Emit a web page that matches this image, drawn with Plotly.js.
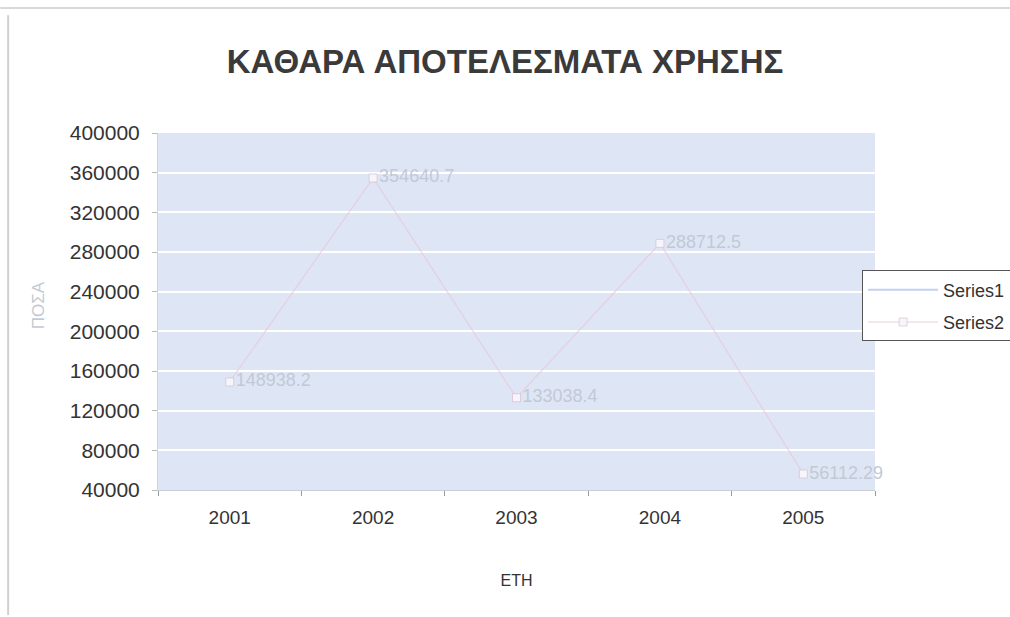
<!DOCTYPE html>
<html>
<head>
<meta charset="utf-8">
<script src="https://cdn.plot.ly/plotly-3.0.1.min.js"></script>
<style>
html,body{margin:0;padding:0;background:#fff;}
#chart{width:1010px;height:617px;}
</style>
</head>
<body>
<div id="chart"></div>
<script>
// Data
var years = ['2001', '2002', '2003', '2004', '2005'];
var series1 = [2001, 2002, 2003, 2004, 2005];
var series2 = [148938.2, 354640.7, 133038.4, 288712.5, 56112.29];
var series2Labels = ['148938.2', '354640.7', '133038.4', '288712.5', '56112.29'];
var yTickVals = [40000, 80000, 120000, 160000, 200000, 240000, 280000, 320000, 360000, 400000];

var traces = [
  {
    name: 'Series1', type: 'scatter', mode: 'lines',
    x: years, y: series1, legendgroup: 'a',
    line: {color: '#c3d0ee', width: 2},
    cliponaxis: true
  },
  {
    name: 'Series2', type: 'scatter', mode: 'lines+markers+text',
    x: years, y: series2, legendgroup: 'b',
    text: series2Labels, textposition: 'middle right',
    textfont: {family: 'Liberation Sans, Arial, sans-serif', size: 18, color: '#c2c9d6'},
    line: {color: 'rgba(232,196,218,0.6)', width: 1.5},
    marker: {symbol: 'square', size: 8, color: '#f4f6fb', line: {color: 'rgba(222,186,208,0.7)', width: 1}},
    cliponaxis: false
  }
];

var layout = {
  width: 1010, height: 617,
  margin: {l: 158, r: 135, t: 133, b: 127, autoexpand: false},
  paper_bgcolor: '#ffffff',
  plot_bgcolor: '#dee6f5',
  font: {family: 'Liberation Sans, Arial, sans-serif', color: '#333'},
  title: {
    text: '<b>ΚΑΘΑΡΑ ΑΠΟΤΕΛΕΣΜΑΤΑ ΧΡΗΣΗΣ</b>',
    font: {family: 'Liberation Sans, Arial, sans-serif', size: 33, color: '#3a3a3a'},
    x: 0.5, xanchor: 'center', y: 0.9, yanchor: 'middle', yref: 'container'
  },
  xaxis: {
    type: 'category',
    tickson: 'boundaries',
    ticks: 'outside', ticklen: 5, tickcolor: '#999',
    ticklabelstandoff: 10,
    showgrid: false, zeroline: false,
    showline: true, linecolor: '#c8ccd6', linewidth: 1,
    tickfont: {size: 19, color: '#333'},
    title: {text: 'ETH', font: {size: 16, color: '#333'}, standoff: 48},
    range: [-0.5, 4.5]
  },
  yaxis: {
    range: [40000, 400000],
    tickvals: yTickVals,
    ticktext: yTickVals.map(String),
    ticks: 'outside', ticklen: 5, tickcolor: '#bbb',
    ticklabelstandoff: 8,
    showgrid: true, gridcolor: '#ffffff', gridwidth: 2,
    zeroline: false,
    showline: true, linecolor: '#d0d4dc', linewidth: 1,
    tickfont: {size: 21, color: '#333'}
  },
  annotations: [
    {text: 'ΠΟΣΑ', xref: 'paper', yref: 'paper', x: -0.167, y: 0.518, textangle: -90,
     showarrow: false, xanchor: 'center', yanchor: 'middle',
     font: {size: 17, color: '#c4c9d2'}}
  ],
  showlegend: true,
  legend: {
    x: 0.982, xanchor: 'left', y: 0.615, yanchor: 'top',
    bgcolor: '#ffffff', bordercolor: '#555', borderwidth: 1,
    font: {size: 18, color: '#333'},
    itemwidth: 70,
    traceorder: 'grouped',
    tracegroupgap: 6
  },
  shapes: [
    {type: 'line', xref: 'paper', yref: 'paper', x0: -0.22, x1: 1.19, y0: 1.35, y1: 1.35, line: {color: '#d8d8d8', width: 2}},
    {type: 'line', xref: 'paper', yref: 'paper', x0: -0.209, x1: -0.209, y0: 1.33, y1: -0.35, line: {color: '#d0d0d0', width: 2}}
  ]
};

Plotly.newPlot('chart', traces, layout, {displayModeBar: false, staticPlot: true});
</script>
</body>
</html>
